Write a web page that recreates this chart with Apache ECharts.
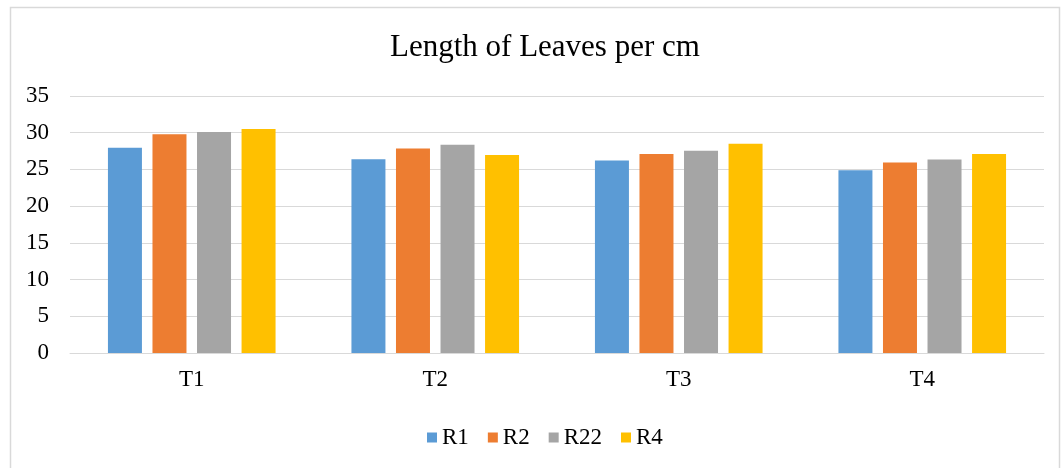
<!DOCTYPE html>
<html>
<head>
<meta charset="utf-8">
<script src="https://cdn.jsdelivr.net/npm/echarts@6/dist/echarts.min.js"></script>
<style>
html,body{margin:0;padding:0;background:#fff;}
#c{width:1061px;height:468px;}
</style>
</head>
<body>
<div id="c"></div>
<script>
const categories = ['T1', 'T2', 'T3', 'T4'];
const seriesNames = ['R1', 'R2', 'R22', 'R4'];
const r1 = [27.95, 26.4, 26.2, 24.9];
const r2 = [29.8, 27.85, 27.1, 25.95];
const r22 = [30.1, 28.35, 27.55, 26.35];
const r4 = [30.5, 26.95, 28.5, 27.1];
const yTicks = [0, 5, 10, 15, 20, 25, 30, 35];
const colors = ['#5B9BD5', '#ED7D31', '#A5A5A5', '#FFC000'];

const font = '"Liberation Serif", "Times New Roman", serif';
const values = [r1, r2, r22, r4];

const chart = echarts.init(document.getElementById('c'), null, {renderer: 'canvas'});
chart.setOption({
  animation: false,
  backgroundColor: '#fff',
  graphic: [{
    type: 'rect',
    left: 8, top: 5,
    shape: {x: 0, y: 0, width: 1049, height: 462},
    style: {fill: 'none', stroke: '#d9d9d9', lineWidth: 1.5},
    silent: true
  }],
  title: {
    text: 'Length of Leaves per cm',
    left: 385,
    top: 27,
    textStyle: {fontFamily: font, fontSize: 31, fontWeight: 'normal', color: '#000'}
  },
  legend: {
    data: seriesNames,
    top: 421,
    left: 422,
    itemWidth: 10,
    itemHeight: 10,
    itemGap: 19,
    icon: 'rect',
    textStyle: {fontFamily: font, fontSize: 23, color: '#000'}
  },
  grid: {left: 70, right: 17, top: 96, bottom: 115, containLabel: false},
  xAxis: {
    type: 'category',
    data: categories,
    axisLine: {lineStyle: {color: '#d9d9d9', width: 1}},
    axisTick: {show: false},
    axisLabel: {fontFamily: font, fontSize: 23, color: '#000', margin: 15}
  },
  yAxis: {
    type: 'value',
    min: yTicks[0],
    max: yTicks[yTicks.length - 1],
    interval: 5,
    axisLine: {show: false},
    axisTick: {show: false},
    splitLine: {lineStyle: {color: '#d9d9d9', width: 1}},
    axisLabel: {fontFamily: font, fontSize: 23, color: '#000', margin: 21}
  },
  series: seriesNames.map((n, i) => ({
    name: n,
    type: 'bar',
    data: values[i],
    barWidth: 34,
    barGap: '31%',
    itemStyle: {color: colors[i]}
  }))
});
</script>
</body>
</html>
